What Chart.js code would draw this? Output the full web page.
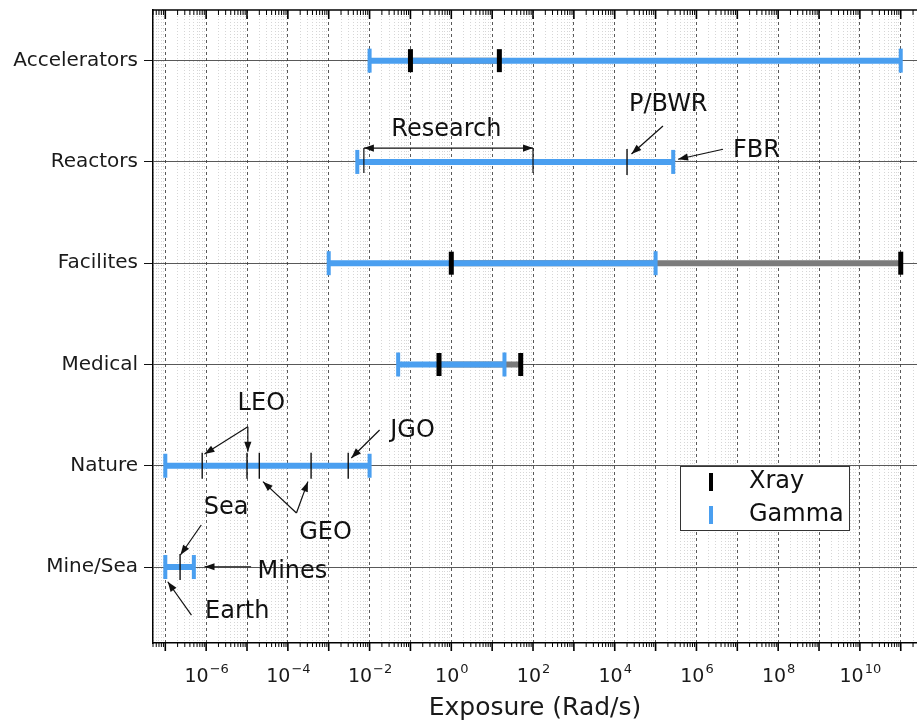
<!DOCTYPE html>
<html>
<head>
<meta charset="utf-8">
<title>Exposure (Rad/s)</title>
<script src="https://cdn.jsdelivr.net/npm/chart.js@4.4.1/dist/chart.umd.min.js"></script>
<style>
  html, body { margin: 0; padding: 0; background: #fff; overflow: hidden; }
  #wrap { width: 917px; height: 724px; }
  canvas { display: block; }
</style>
</head>
<body>
<div id="wrap"><canvas id="exposureChart"></canvas></div>
<script>
// categories, top to bottom
const categories = ['Accelerators', 'Reactors', 'Facilites', 'Medical', 'Nature', 'Mine/Sea'];

// Gamma / Xray ranges (Rad/s), null = none
const gammaMin = [1e-2, 5e-3, 1e-3, 5e-2, 1e-7, 1e-7];
const gammaMax = [1e11, 2.7e5, 1e5, 20, 1e-2, 5e-7];
const xrayMin = [0.1, null, 1, 0.5, null, null];
const xrayMax = [15, null, 1e11, 50, null, null];

// thin marks: P/BWR, LEO, LEO, GEO, GEO, JGO, Sea
const markRows = ['Reactors', 'Nature', 'Nature', 'Nature', 'Nature', 'Nature', 'Mine/Sea'];
const markValues = [2e4, 8e-7, 1e-5, 2e-5, 3.7e-4, 3e-3, 2.3e-7];

// x tick labels (10^n)
const xTickValues = [1e-6, 1e-4, 1e-2, 1, 1e2, 1e4, 1e6, 1e8, 1e10];
const xTickExponents = ['−6', '−4', '−2', '0', '2', '4', '6', '8', '10'];

const FONT = 'DejaVu Sans';
const BLUE = '#4a9ff0';
const GRAY = '#7b7b7b';

// row index -> y value (Accelerators = 6 ... Mine/Sea = 1)
const rowY = name => categories.length - categories.indexOf(name);

// annotations in axis units (x: log10 of value, y: row value)
const noteTexts = [
  { text: 'Research', x: -0.12, y: 5.315 },
  { text: 'P/BWR', x: 5.31, y: 5.562 },
  { text: 'FBR', x: 7.47, y: 5.108 },
  { text: 'LEO', x: -4.65, y: 2.61 },
  { text: 'JGO', x: -0.95, y: 2.343 },
  { text: 'GEO', x: -3.08, y: 1.336 },
  { text: 'Sea', x: -5.51, y: 1.583 },
  { text: 'Mines', x: -3.89, y: 0.951 },
  { text: 'Earth', x: -5.24, y: 0.556 }
];
const noteArrows = [
  { from: [5.18, 5.355], to: [4.41, 5.078] },
  { from: [6.65, 5.125], to: [5.55, 5.026] },
  { from: [-4.98, 2.386], to: [-6.04, 2.116] },
  { from: [-4.98, 2.386], to: [-4.98, 2.139] },
  { from: [-1.755, 2.353], to: [-2.448, 2.077] },
  { from: [-3.79, 1.534], to: [-4.61, 1.843] },
  { from: [-3.79, 1.534], to: [-3.51, 1.843] },
  { from: [-6.12, 1.415], to: [-6.63, 1.119] },
  { from: [-4.90, 1.003], to: [-6.04, 1.003] },
  { from: [-6.36, 0.526], to: [-6.94, 0.855] }
];
const researchBracket = { x0: -2.14, x1: 2.0, top: 5.137, bottom: 4.89 };

// データ組み立て
function rangePoints(mins, maxs) {
  const pts = [];
  categories.forEach((c, i) => {
    if (mins[i] == null) return;
    pts.push({ x: mins[i], y: rowY(c) }, { x: maxs[i], y: rowY(c) }, { x: null, y: null });
  });
  return pts;
}
const gammaPts = rangePoints(gammaMin, gammaMax);
const xrayPts = rangePoints(xrayMin, xrayMax);
const markPts = markValues.map((v, i) => ({ x: v, y: rowY(markRows[i]) }));

function logTicks(min, max) {
  const out = [];
  for (let e = Math.floor(Math.log10(min)); e <= Math.ceil(Math.log10(max)); e++) {
    for (let m = 1; m < 10; m++) {
      const v = m * Math.pow(10, e);
      if (v >= min * 0.999999 && v <= max * 1.000001) out.push({ value: v, major: m === 1 });
    }
  }
  return out;
}

function arrowHead(ctx, x0, y0, x1, y1) {
  const a = Math.atan2(y1 - y0, x1 - x0);
  const len = 10, w = 3.6;
  ctx.beginPath();
  ctx.moveTo(x1, y1);
  ctx.lineTo(x1 - len * Math.cos(a) + w * Math.sin(a), y1 - len * Math.sin(a) - w * Math.cos(a));
  ctx.lineTo(x1 - len * Math.cos(a) - w * Math.sin(a), y1 - len * Math.sin(a) + w * Math.cos(a));
  ctx.closePath();
  ctx.fill();
}

const notesPlugin = {
  id: 'notes',
  afterDatasetsDraw(chart) {
    const { ctx, scales: { x, y } } = chart;
    const X = e => x.getPixelForValue(Math.pow(10, e));
    const Y = v => y.getPixelForValue(v);
    ctx.save();
    ctx.strokeStyle = '#111';
    ctx.fillStyle = '#111';
    ctx.lineWidth = 1.2;
    noteArrows.forEach(a => {
      const x0 = X(a.from[0]), y0 = Y(a.from[1]), x1 = X(a.to[0]), y1 = Y(a.to[1]);
      ctx.beginPath(); ctx.moveTo(x0, y0); ctx.lineTo(x1, y1); ctx.stroke();
      arrowHead(ctx, x0, y0, x1, y1);
    });
    // Research bracket
    const b = researchBracket;
    const bl = X(b.x0), br = X(b.x1), bt = Y(b.top), bb = Y(b.bottom);
    ctx.beginPath();
    ctx.moveTo(bl, bb); ctx.lineTo(bl, bt);
    ctx.moveTo(br, bb); ctx.lineTo(br, bt);
    ctx.moveTo(bl, bt); ctx.lineTo(br, bt);
    ctx.stroke();
    arrowHead(ctx, br, bt, bl, bt);
    arrowHead(ctx, bl, bt, br, bt);

    ctx.font = '24px ' + FONT;
    ctx.textAlign = 'center';
    ctx.textBaseline = 'middle';
    noteTexts.forEach(n => ctx.fillText(n.text, X(n.x), Y(n.y)));
    ctx.restore();
  }
};

const framePlugin = {
  id: 'frame',
  afterDraw(chart) {
    const { ctx, chartArea: a, scales: { x } } = chart;
    ctx.save();
    ctx.strokeStyle = '#000';
    ctx.lineWidth = 1.5;
    ctx.beginPath(); ctx.moveTo(a.left, a.top); ctx.lineTo(a.right, a.top); ctx.stroke();
    x.ticks.forEach(t => {
      const px = x.getPixelForValue(t.value);
      const len = t.major ? 8 : 4;
      ctx.lineWidth = t.major ? 1.6 : 1;
      ctx.beginPath();
      ctx.moveTo(px, a.bottom); ctx.lineTo(px, a.bottom + len);
      ctx.moveTo(px, a.top); ctx.lineTo(px, a.top + len + 1);
      ctx.stroke();
    });

    // 10^n tick labels with superscripts
    ctx.fillStyle = '#1a1a1a';
    ctx.textBaseline = 'alphabetic';
    ctx.textAlign = 'left';
    xTickValues.forEach((v, i) => {
      const px = x.getPixelForValue(v);
      ctx.font = '19px ' + FONT;
      const wb = ctx.measureText('10').width;
      ctx.font = '13px ' + FONT;
      const we = ctx.measureText(xTickExponents[i]).width;
      const x0 = px - (wb + we) / 2;
      const base = a.bottom + 39;
      ctx.font = '19px ' + FONT;
      ctx.fillText('10', x0, base);
      ctx.font = '13px ' + FONT;
      ctx.fillText(xTickExponents[i], x0 + wb + 1, base - 9);
    });

    // legend box
    const lx = 680, ly = 466, lw = 169, lh = 64;
    ctx.fillStyle = '#fff';
    ctx.fillRect(lx, ly, lw, lh);
    ctx.lineWidth = 1;
    ctx.strokeStyle = '#333';
    ctx.strokeRect(lx + 0.5, ly + 0.5, lw, lh);
    const items = [
      { label: chart.data.datasets[0].label, color: '#000', yc: ly + 16 },
      { label: chart.data.datasets[2].label, color: BLUE, yc: ly + 49 }
    ];
    ctx.font = '24px ' + FONT;
    ctx.textBaseline = 'middle';
    ctx.textAlign = 'left';
    items.forEach(it => {
      ctx.strokeStyle = it.color;
      ctx.lineWidth = 4;
      ctx.beginPath(); ctx.moveTo(lx + 31, it.yc - 9); ctx.lineTo(lx + 31, it.yc + 9); ctx.stroke();
      ctx.fillStyle = '#111';
      ctx.fillText(it.label, lx + 69, it.yc);
    });
    ctx.restore();
  }
};

const ctx = document.getElementById('exposureChart').getContext('2d');
const exposureChart = new Chart(ctx, {
  type: 'line',
  data: {
    datasets: [
      {
        label: 'Xray',
        data: xrayPts,
        showLine: false,
        pointStyle: 'line',
        rotation: 90,
        pointRadius: 11.5,
        pointBorderWidth: 5,
        pointBorderColor: '#000',
        borderColor: '#000'
      },
      {
        label: 'marks',
        data: markPts,
        showLine: false,
        pointStyle: 'line',
        rotation: 90,
        pointRadius: 13,
        pointBorderWidth: 1.4,
        pointBorderColor: '#111',
        borderColor: '#111'
      },
      {
        label: 'Gamma',
        data: gammaPts,
        borderColor: BLUE,
        borderWidth: 6,
        spanGaps: false,
        pointStyle: 'line',
        rotation: 90,
        pointRadius: 12,
        pointBorderWidth: 4,
        pointBorderColor: BLUE
      },
      {
        label: 'Xray range',
        data: xrayPts,
        borderColor: GRAY,
        borderWidth: 6,
        spanGaps: false,
        pointRadius: 0
      }
    ]
  },
  options: {
    responsive: true,
    maintainAspectRatio: false,
    animation: false,
    events: [],
    layout: { autoPadding: false, padding: { top: 10, right: 0, bottom: 0, left: 0 } },
    plugins: { legend: { display: false }, tooltip: { enabled: false } },
    scales: {
      x: {
        type: 'logarithmic',
        min: 5e-8,
        max: 2.5e11,
        afterBuildTicks: s => { s.ticks = logTicks(s.min, s.max); },
        afterFit: s => { s.height = 81; s.paddingLeft = 0; s.paddingRight = 0; },
        ticks: {
          autoSkip: false,
          maxRotation: 0,
          callback: () => ''
        },
        grid: {
          drawTicks: false,
          lineWidth: 1,
          color: c => (c.tick && c.tick.major) ? 'rgba(60,60,60,0.85)' : 'rgba(165,165,165,0.45)'
        },
        border: {
          display: true,
          color: '#000',
          width: 1.5,
          dash: c => c.tick ? (c.tick.major ? [3, 3] : [1, 2]) : []
        },
        title: {
          display: true,
          text: 'Exposure (Rad/s)',
          color: '#1a1a1a',
          font: { family: FONT, size: 25 },
          padding: { top: 0, bottom: 1 }
        }
      },
      y: {
        type: 'linear',
        min: 0.25,
        max: 6.5,
        afterBuildTicks: s => { s.ticks = categories.map((c, i) => ({ value: categories.length - i })); },
        afterFit: s => { s.width = 153; s.paddingTop = 0; s.paddingBottom = 0; },
        ticks: {
          padding: 6,
          color: '#1a1a1a',
          font: { family: FONT, size: 20 },
          callback: v => categories[categories.length - v] || ''
        },
        grid: {
          color: 'rgba(60,60,60,0.85)',
          lineWidth: 1,
          tickLength: 9,
          tickColor: '#111'
        },
        border: { display: true, color: '#000', width: 1.5 }
      }
    }
  },
  plugins: [notesPlugin, framePlugin]
});
</script>
</body>
</html>
